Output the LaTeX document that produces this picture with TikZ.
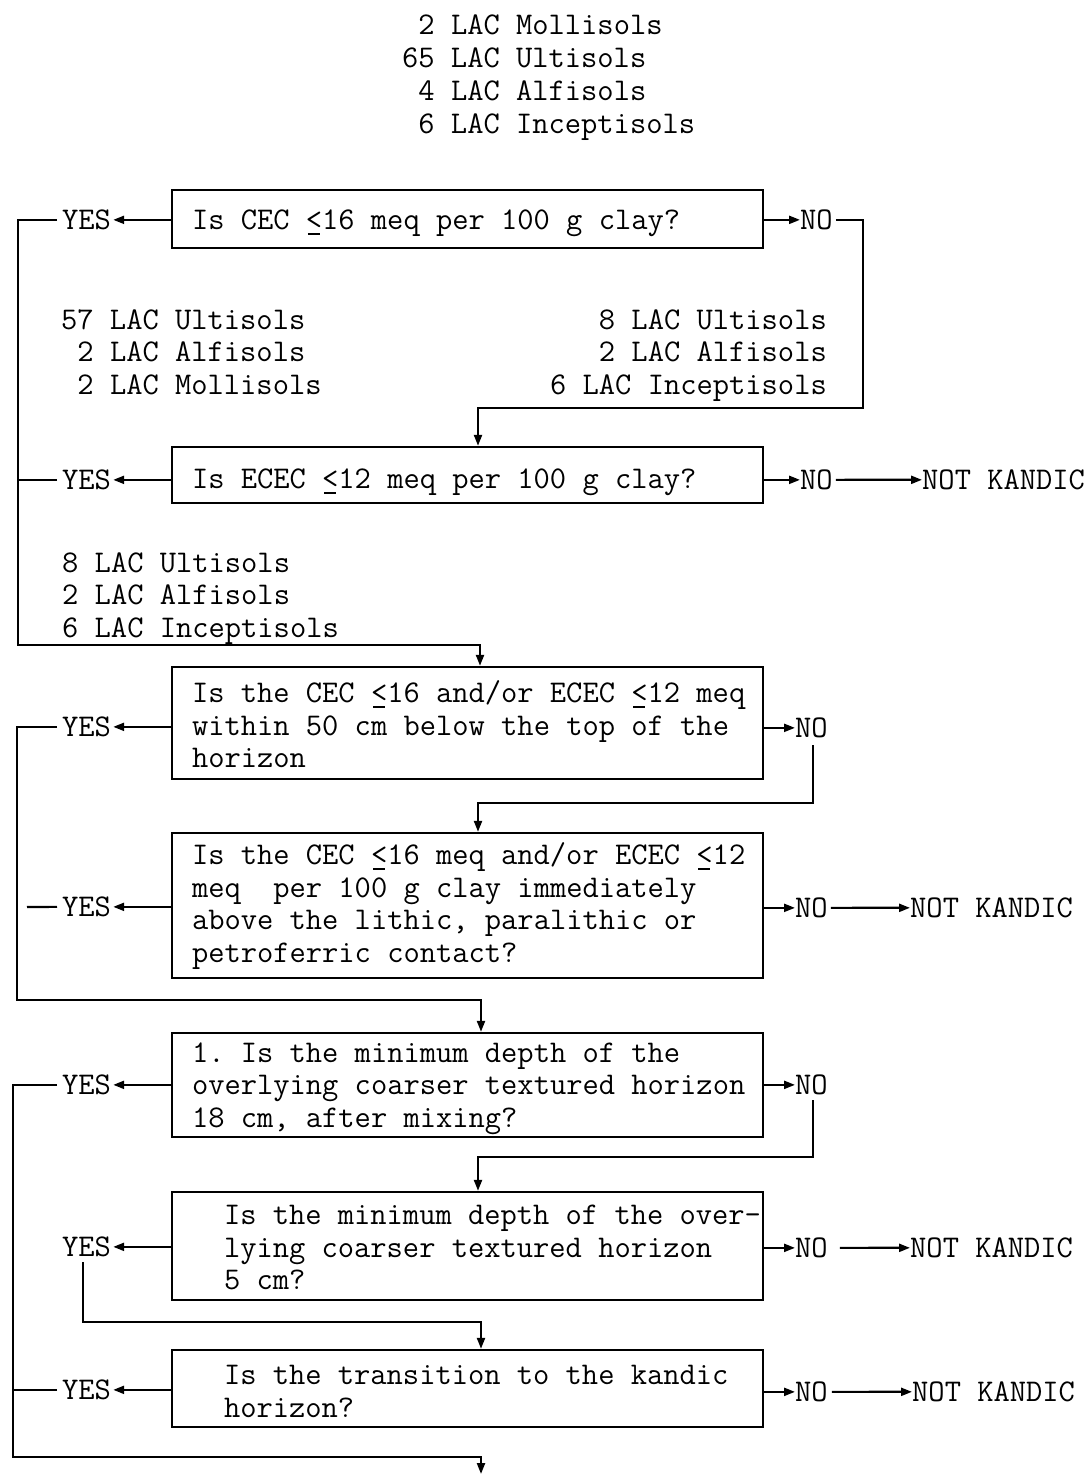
\documentclass[tikz,border=0pt]{standalone}
\usepackage{fontspec}
\usetikzlibrary{arrows.meta}
\newcommand{\ulq}{\rlap{\hspace{2pt}\rule[-5pt]{12pt}{2.2pt}}<}
\newcommand{\ind}{\hspace*{20pt}}
\newcommand{\indb}{\hspace*{52pt}}
\newcommand{\sh}[1]{\rule{0pt}{#1pt}}
\begin{document}
\begin{tikzpicture}[x=1pt,y=-1pt,
  txt/.style={font=\ttfamily\fontsize{31.6}{32.5}\selectfont\frenchspacing, inner sep=0pt},
  lbl/.style={txt, anchor=base west},
  rlbl/.style={txt, anchor=base east},
  qbox/.style={txt, draw, line width=2.4pt, text width=591pt, inner xsep=0pt, inner ysep=0pt, align=flush left},
  conn/.style={line width=2.2pt},
  arr/.style={conn, -{Triangle[length=11pt,width=8pt]}},
]
\fill[white] (0,0) rectangle (1090,1475);
\useasboundingbox (0,0) rectangle (1090,1475);

% top counts
\node[lbl] (t1) at (402,34.5) {\hphantom{0}2 LAC Mollisols};
\node[lbl] (t2) at (402,67.5) {65 LAC Ultisols};
\node[lbl] (t3) at (402,100.5) {\hphantom{0}4 LAC Alfisols};
\node[lbl] (t4) at (402,133.5) {\hphantom{0}6 LAC Inceptisols};

% boxes
\node[qbox, minimum height=58pt] (q1) at (467.5,219) {\ind\sh{29}Is CEC \ulq16 meq per 100 g clay?};
\node[qbox, minimum height=56pt] (q2) at (467.5,475) {\ind\sh{35}Is ECEC \ulq12 meq per 100 g clay?};
\node[qbox, minimum height=112pt] (q3) at (467.5,723) {\ind\sh{25}Is the CEC \ulq16 and/or ECEC \ulq12 meq\\ \ind within 50 cm below the top of the\\ \ind horizon};
\node[qbox, minimum height=145pt] (q4) at (467.5,905.5) {\ind\sh{23}Is the CEC \ulq16 meq and/or ECEC \ulq12\\ \ind meq~~per 100 g clay immediately\\ \ind above the lithic, paralithic or\\ \ind petroferric contact?};
\node[qbox, minimum height=104pt] (q5) at (467.5,1085) {\ind\sh{27}1. Is the minimum depth of the\\ \ind overlying coarser textured horizon\\ \ind 18 cm, after mixing?};
\node[qbox, minimum height=108pt] (q6) at (467.5,1246) {\indb\sh{23}Is the minimum depth of the over-\\ \indb lying coarser textured horizon\\ \indb 5 cm?};
\node[qbox, minimum height=77pt] (q7) at (467.5,1388.5) {\indb\sh{25}Is the transition to the kandic\\ \indb horizon?};

% intermediate counts
\node[lbl] (a1) at (61,329.5) {57 LAC Ultisols};
\node[lbl] (a2) at (61,361.5) {\hphantom{0}2 LAC Alfisols};
\node[lbl] (a3) at (61,394.5) {\hphantom{0}2 LAC Mollisols};
\node[rlbl] (b1) at (827,329.5) {8 LAC Ultisols};
\node[rlbl] (b2) at (827,361.5) {2 LAC Alfisols};
\node[rlbl] (b3) at (827,394.5) {6 LAC Inceptisols};
\node[lbl] (c1) at (62,572.5) {8 LAC Ultisols};
\node[lbl] (c2) at (62,604.5) {2 LAC Alfisols};
\node[lbl] (c3) at (62,637.5) {6 LAC Inceptisols};

% YES labels
\node[lbl] (y1) at (62,229.5) {YES};
\node[lbl] (y2) at (62,489.5) {YES};
\node[lbl] (y3) at (62,736.5) {YES};
\node[lbl] (y4) at (62,916.5) {YES};
\node[lbl] (y5) at (62,1094.5) {YES};
\node[lbl] (y6) at (62,1256.5) {YES};
\node[lbl] (y7) at (62,1399.5) {YES};

% NO labels
\node[lbl] (n1) at (800,229.5) {NO};
\node[lbl] (n2) at (800,489.5) {NO};
\node[lbl] (n3) at (795,737.5) {NO};
\node[lbl] (n4) at (795,917.5) {NO};
\node[lbl] (n5) at (795,1094.5) {NO};
\node[lbl] (n6) at (795,1257.5) {NO};
\node[lbl] (n7) at (795,1401.5) {NO};

% NOT KANDIC
\node[lbl] (k2) at (922,489.5) {NOT KANDIC};
\node[lbl] (k4) at (910,917.5) {NOT KANDIC};
\node[lbl] (k6) at (910,1257.5) {NOT KANDIC};
\node[lbl] (k7) at (912,1401.5) {NOT KANDIC};

% helper coordinates
\coordinate (X1) at (480,0);
\coordinate (X2) at (478,0);
\coordinate (X3) at (481,0);
\coordinate (L1) at (18,645);
\coordinate (L2) at (17,1000);
\coordinate (L3) at (13,1457);
\coordinate (E) at (481,1474);
\coordinate (R1) at (863,408);
\coordinate (R3a) at (813,745);
\coordinate (R3) at (813,803);
\coordinate (R5a) at (813,1100);
\coordinate (R5) at (813,1157);
\coordinate (C6a) at (83,1262);
\coordinate (C6) at (83,1322);
\coordinate (D4) at (27,907);

% YES arrows
\foreach \q/\y in {q1/y1,q2/y2,q3/y3,q4/y4,q5/y5,q6/y6,q7/y7}
  \draw[arr] (\q.west |- \y.east) -- ([xshift=2pt]\y.east);
% NO arrows
\foreach \q/\n in {q1/n1,q2/n2,q3/n3,q4/n4,q5/n5,q6/n6,q7/n7}
  \draw[arr] (\q.east |- \n.west) -- (\n.west);

% YES routes
\draw[arr] ([xshift=-5pt]y1.west) -| (L1) -| (X1 |- q3.north);
\draw[conn] ([xshift=-5pt]y2.west) -- (y2.west -| L1);
\draw[arr] ([xshift=-5pt]y3.west) -| (L2) -| (X3 |- q5.north);
\draw[conn] (D4) -- ([xshift=-5pt]y4.west);
\draw[arr] ([xshift=-5pt]y5.west) -| (L3) -| (E);
\draw[arr] (C6a) -- (C6) -| (X3 |- q7.north);
\draw[conn] ([xshift=-5pt]y7.west) -- (y7.west -| L3);

% NO routes
\draw[arr] ([xshift=3pt]n1.east) -| (R1) -| (X2 |- q2.north);
\draw[arr] ([xshift=3pt]n2.east) -- (k2.west);
\draw[arr] (R3a) -- (R3) -| (X2 |- q4.north);
\draw[arr] ([xshift=3pt]n4.east) -- (k4.west);
\draw[arr] (R5a) -- (R5) -| (X2 |- q6.north);
\draw[arr] ([xshift=12pt]n6.east) -- (k6.west);
\draw[arr] ([xshift=4pt]n7.east) -- (k7.west);
\end{tikzpicture}
\end{document}
